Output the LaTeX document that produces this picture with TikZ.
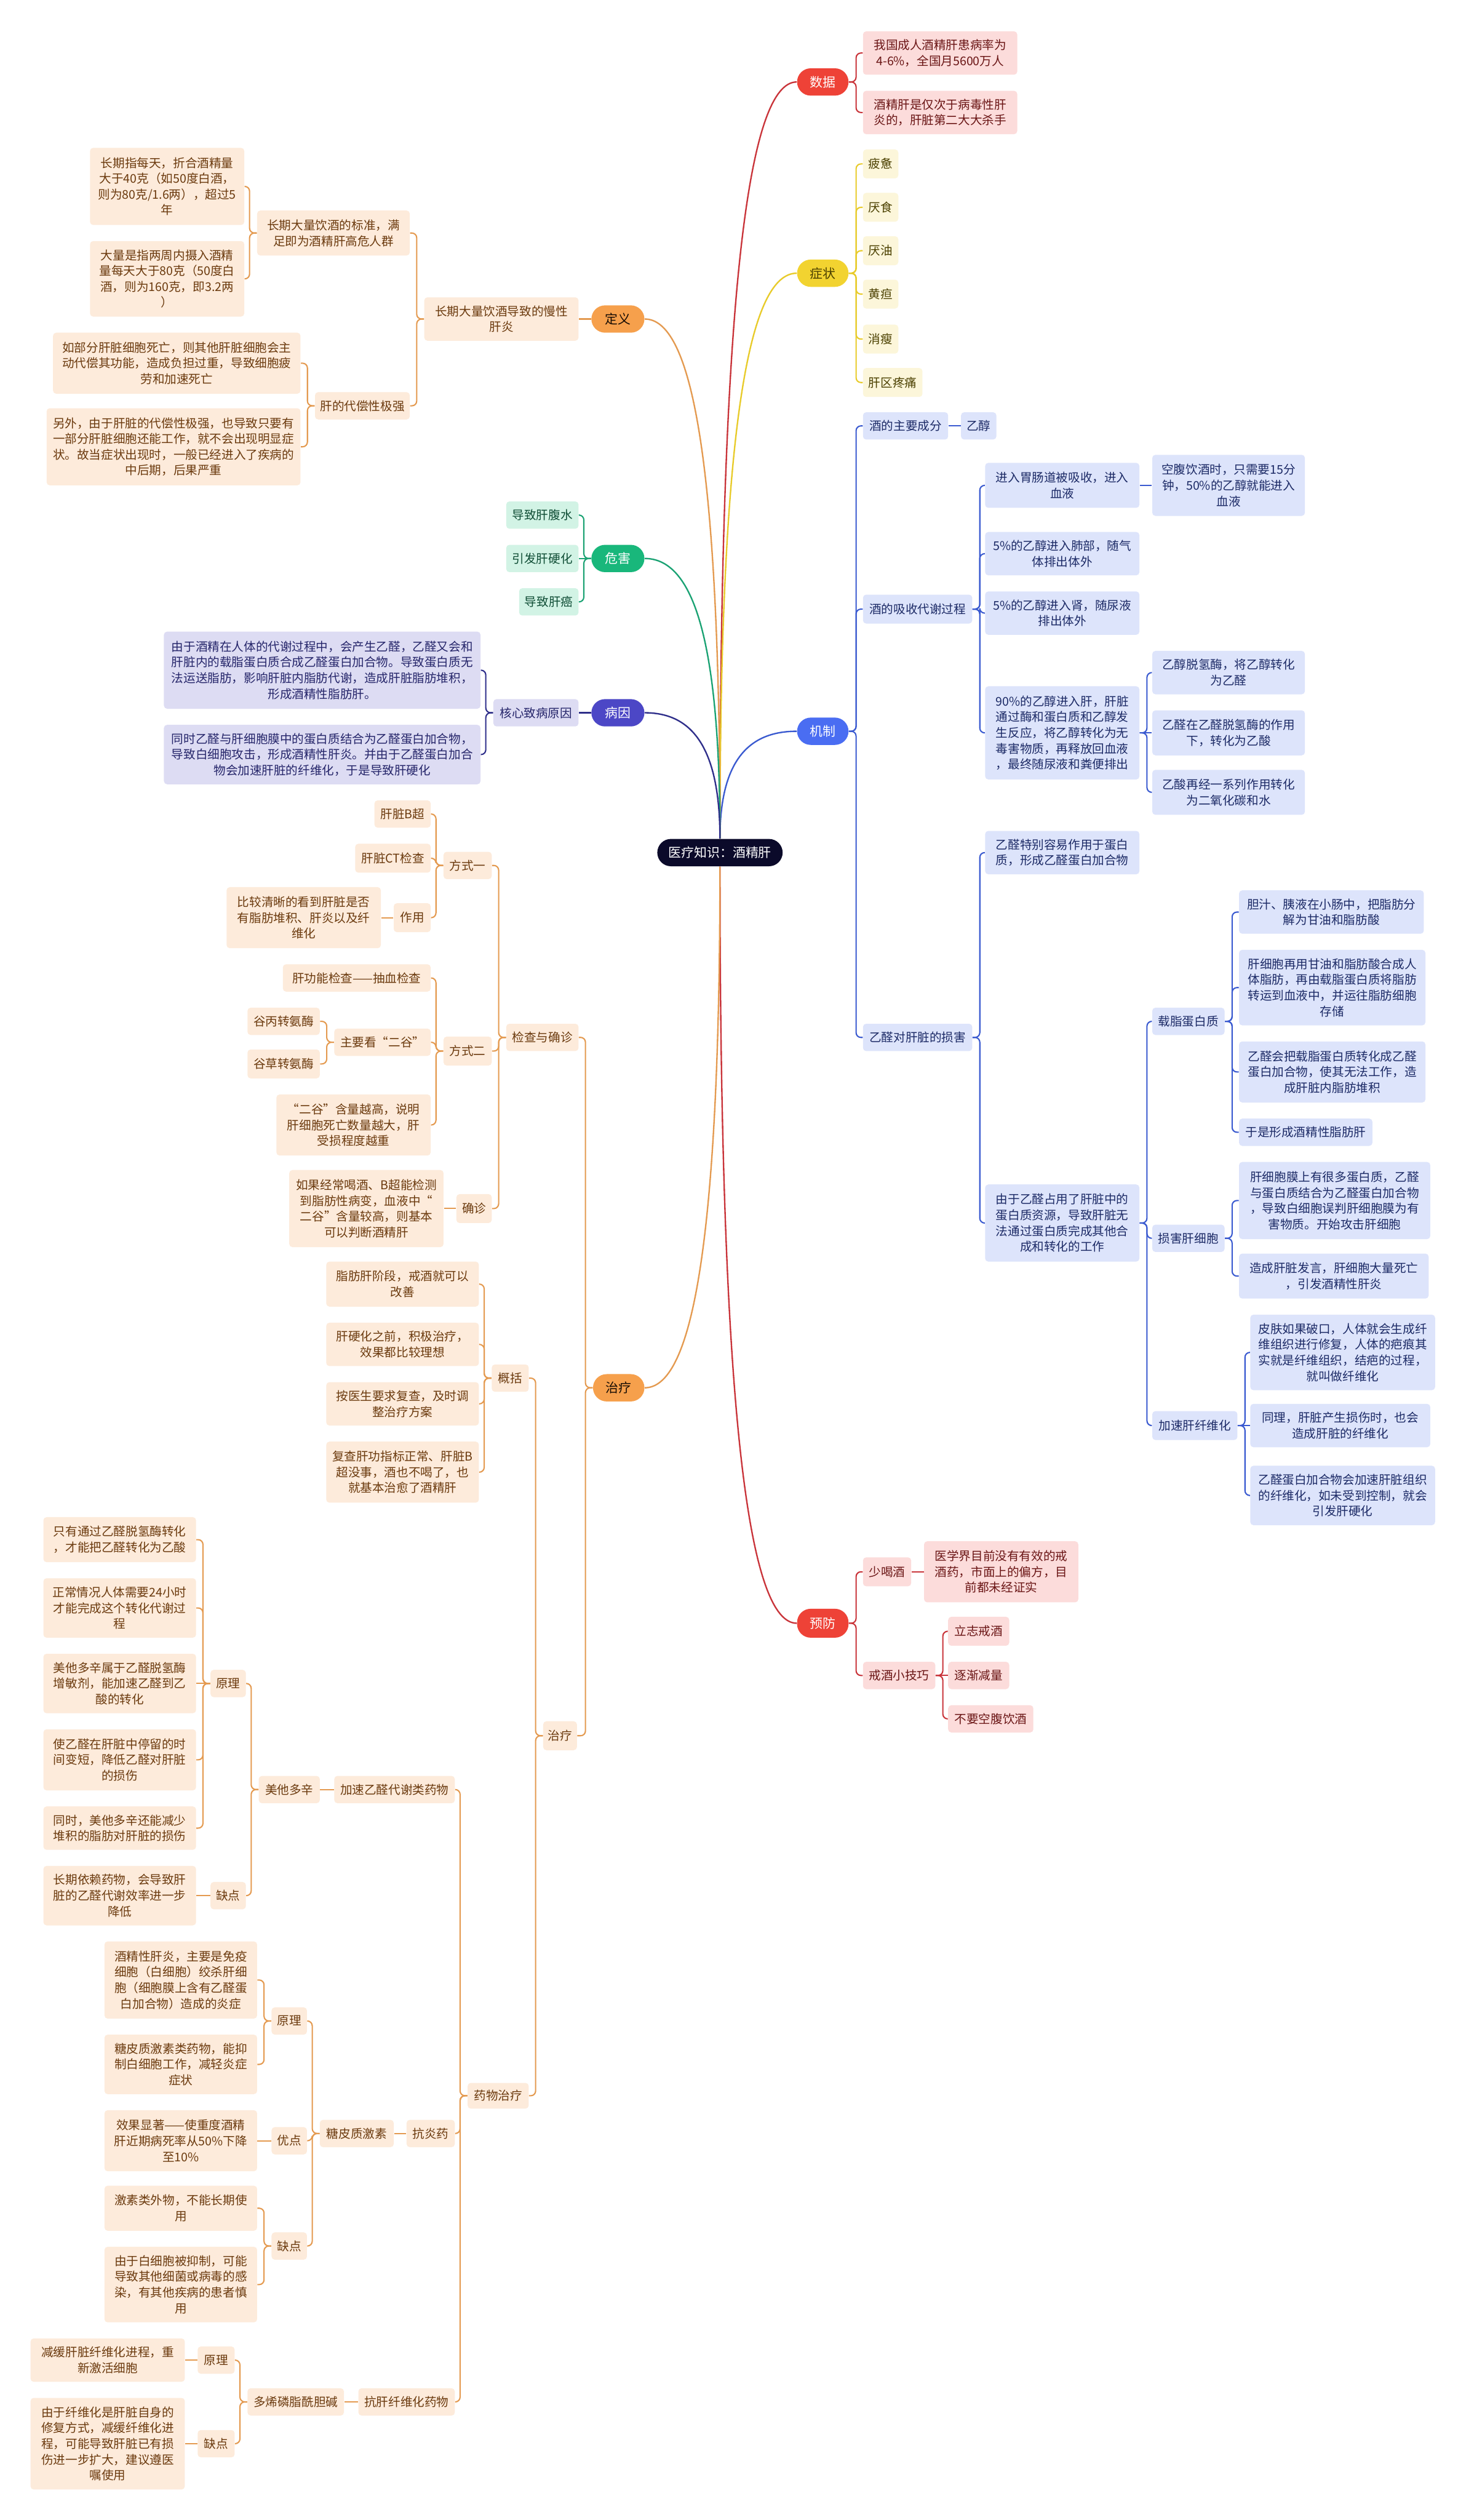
\documentclass[tikz,border=0pt]{standalone}
\usepackage{fontspec}
\setmainfont{Noto Sans CJK SC}
\usetikzlibrary{calc}
\definecolor{rootC}{HTML}{0B0A2A}
\definecolor{redP}{HTML}{EE4237}\definecolor{redL}{HTML}{C9343A}\definecolor{redS}{HTML}{FCDCDB}\definecolor{redT}{HTML}{6A1515}
\definecolor{yelP}{HTML}{F2D330}\definecolor{yelL}{HTML}{E8CB2A}\definecolor{yelS}{HTML}{FCF6DA}\definecolor{yelT}{HTML}{4B4000}
\definecolor{bluP}{HTML}{4A6DF2}\definecolor{bluL}{HTML}{3A5AD0}\definecolor{bluS}{HTML}{DDE4FB}\definecolor{bluT}{HTML}{1C2A66}
\definecolor{oraP}{HTML}{F6A04C}\definecolor{oraL}{HTML}{E49A50}\definecolor{oraS}{HTML}{FDEBDB}\definecolor{oraT}{HTML}{6B3A0E}
\definecolor{greP}{HTML}{19B77B}\definecolor{greL}{HTML}{1AA273}\definecolor{greS}{HTML}{D2F3E5}\definecolor{greT}{HTML}{0F4D35}
\definecolor{indP}{HTML}{4C47C6}\definecolor{indL}{HTML}{2E2E8A}\definecolor{indS}{HTML}{DDDCF3}\definecolor{indT}{HTML}{25256A}
\newcommand\mnode[7]{\node[#1, minimum width=#5pt, minimum height=#6pt] (#2) at (#3,#4) {#7};}
\newcommand\conR[3]{\draw[#1] (#2.east) -- ++(4.5,0) |- (#3.west);}
\newcommand\conL[3]{\draw[#1] (#2.west) -- ++(-4.5,0) |- (#3.east);}
\newcommand\conS[3]{\draw[#1] (#2) -- (#3);}
\newcommand\rootc[3]{\coordinate (kk) at (#2 |- #3); \draw[#1] (#2) .. controls ($(#2)!0.75!(kk)$) and ($(#3)!0.6!(kk)$) .. (#3);}
\begin{document}
\begin{tikzpicture}[x=1pt,y=-1pt,
  every node/.style={font=\fontsize{7.5}{9.8}\selectfont, align=center, inner sep=1pt},
  pill/.style={rounded corners=8.5pt, font=\fontsize{8}{9.8}\selectfont},
  sub/.style={rounded corners=2pt},
  rootn/.style={pill, fill=rootC, text=white},
  pR/.style={pill, fill=redP, text=white}, sR/.style={sub, fill=redS, text=redT},
  pY/.style={pill, fill=yelP, text=yelT}, sY/.style={sub, fill=yelS, text=yelT},
  pB/.style={pill, fill=bluP, text=white}, sB/.style={sub, fill=bluS, text=bluT},
  pO/.style={pill, fill=oraP, text=black!80!oraT}, sO/.style={sub, fill=oraS, text=oraT},
  pG/.style={pill, fill=greP, text=white}, sG/.style={sub, fill=greS, text=greT},
  pI/.style={pill, fill=indP, text=white}, sI/.style={sub, fill=indS, text=indT},
  lR/.style={draw=redL, line width=0.8pt, rounded corners=3pt},
  lY/.style={draw=yelL, line width=0.8pt, rounded corners=3pt},
  lB/.style={draw=bluL, line width=0.8pt, rounded corners=3pt},
  lO/.style={draw=oraL, line width=0.8pt, rounded corners=3pt},
  lG/.style={draw=greL, line width=0.8pt, rounded corners=3pt},
  lI/.style={draw=indL, line width=0.8pt, rounded corners=3pt},
  rR/.style={draw=redL, line width=0.9pt},
  rY/.style={draw=yelL, line width=0.9pt},
  rB/.style={draw=bluL, line width=0.9pt},
  rO/.style={draw=oraL, line width=0.9pt},
  rG/.style={draw=greL, line width=0.9pt},
  rI/.style={draw=indL, line width=0.9pt}]
\fill[white] (0,0) rectangle (912,1568);
\useasboundingbox (0,0) rectangle (912,1568);
% root
\mnode{rootn}{root}{448}{530.5}{78}{17}{医疗知识：酒精肝}
% ===== right side =====
\mnode{pR}{sj}{512}{51}{32}{17}{数据}
\mnode{sR}{d1}{585}{33}{96}{27}{我国成人酒精肝患病率为\\4-6\%，全国月5600万人}
\mnode{sR}{d2}{585}{70}{96}{27}{酒精肝是仅次于病毒性肝\\炎的，肝脏第二大大杀手}
\mnode{pY}{zz}{512}{170}{32}{17}{症状}
\mnode{sY}{y1}{548}{102}{22}{18}{疲惫}
\mnode{sY}{y2}{548}{129}{22}{18}{厌食}
\mnode{sY}{y3}{548}{156}{22}{18}{厌油}
\mnode{sY}{y4}{548}{183}{22}{18}{黄疸}
\mnode{sY}{y5}{548}{211}{22}{18}{消瘦}
\mnode{sY}{y6}{555.5}{238}{37}{18}{肝区疼痛}
\mnode{pB}{jz}{512}{455}{32}{17}{机制}
\mnode{sB}{b1}{563.5}{265}{53}{17}{酒的主要成分}
\mnode{sB}{b1a}{609}{265}{22}{17}{乙醇}
\mnode{sB}{b2}{571}{379}{68}{18}{酒的吸收代谢过程}
\mnode{sB}{b21}{661}{302}{96}{28}{进入胃肠道被吸收，进入\\血液}
\mnode{sB}{b211}{764.5}{302}{95}{38}{空腹饮酒时，只需要15分\\钟，50\%的乙醇就能进入\\血液}
\mnode{sB}{b22}{661}{344.5}{96}{27}{5\%的乙醇进入肺部，随气\\体排出体外}
\mnode{sB}{b23}{661}{381.5}{96}{27}{5\%的乙醇进入肾，随尿液\\排出体外}
\mnode{sB}{b24}{661}{456}{96}{58}{90\%的乙醇进入肝，肝脏\\通过酶和蛋白质和乙醇发\\生反应，将乙醇转化为无\\毒害物质，再释放回血液\\，最终随尿液和粪便排出}
\mnode{sB}{b241}{764.5}{418.5}{95}{27}{乙醇脱氢酶，将乙醇转化\\为乙醛}
\mnode{sB}{b242}{764.5}{456}{95}{28}{乙醛在乙醛脱氢酶的作用\\下，转化为乙酸}
\mnode{sB}{b243}{764.5}{493}{95}{28}{乙酸再经一系列作用转化\\为二氧化碳和水}
\mnode{sB}{b3}{571}{645.5}{68}{17}{乙醛对肝脏的损害}
\mnode{sB}{b31}{661}{530.5}{96}{27}{乙醛特别容易作用于蛋白\\质，形成乙醛蛋白加合物}
\mnode{sB}{b32}{661}{761}{96}{48}{由于乙醛占用了肝脏中的\\蛋白质资源，导致肝脏无\\法通过蛋白质完成其他合\\成和转化的工作}
\mnode{sB}{b321}{739.5}{635.5}{45}{17}{载脂蛋白质}
\mnode{sB}{c1}{828.5}{567.5}{115}{27}{胆汁、胰液在小肠中，把脂肪分\\解为甘油和脂肪酸}
\mnode{sB}{c2}{829}{614.5}{116}{47}{肝细胞再用甘油和脂肪酸合成人\\体脂肪，再由载脂蛋白质将脂肪\\转运到血液中，并运往脂肪细胞\\存储}
\mnode{sB}{c3}{829}{667}{116}{38}{乙醛会把载脂蛋白质转化成乙醛\\蛋白加合物，使其无法工作，造\\成肝脏内脂肪堆积}
\mnode{sB}{c4}{812.5}{704.5}{83}{17}{于是形成酒精性脂肪肝}
\mnode{sB}{b322}{739.5}{770.5}{45}{17}{损害肝细胞}
\mnode{sB}{c5}{830.5}{747}{119}{48}{肝细胞膜上有很多蛋白质，乙醛\\与蛋白质结合为乙醛蛋白加合物\\，导致白细胞误判肝细胞膜为有\\害物质。开始攻击肝细胞}
\mnode{sB}{c6}{830}{794}{118}{28}{造成肝脏发言，肝细胞大量死亡\\，引发酒精性肝炎}
\mnode{sB}{b323}{743.5}{887}{53}{18}{加速肝纤维化}
\mnode{sB}{c7}{835.5}{841.5}{115}{47}{皮肤如果破口，人体就会生成纤\\维组织进行修复，人体的疤痕其\\实就是纤维组织，结疤的过程，\\就叫做纤维化}
\mnode{sB}{c8}{834}{887}{112}{27}{同理，肝脏产生损伤时，也会\\造成肝脏的纤维化}
\mnode{sB}{c9}{835.5}{930.5}{115}{37}{乙醛蛋白加合物会加速肝脏组织\\的纤维化，如未受到控制，就会\\引发肝硬化}
\mnode{pR}{yf}{512}{1010}{32}{18}{预防}
\mnode{sR}{r1}{552}{978}{30}{18}{少喝酒}
\mnode{sR}{r11}{623}{978}{96}{38}{医学界目前没有有效的戒\\酒药，市面上的偏方，目\\前都未经证实}
\mnode{sR}{r2}{559.5}{1042.5}{45}{17}{戒酒小技巧}
\mnode{sR}{r21}{609}{1015}{38}{18}{立志戒酒}
\mnode{sR}{r22}{609}{1042.5}{38}{17}{逐渐减量}
\mnode{sR}{r23}{616.5}{1069.5}{53}{17}{不要空腹饮酒}
% ===== left side =====
\mnode{pO}{dy}{384.5}{198.5}{33}{17}{定义}
\mnode{sO}{L1}{312}{198.5}{96}{27}{长期大量饮酒导致的慢性\\肝炎}
\mnode{sO}{L11}{207.5}{145}{95}{28}{长期大量饮酒的标准，满\\足即为酒精肝高危人群}
\mnode{sO}{L111}{104}{116}{96}{48}{长期指每天，折合酒精量\\大于40克（如50度白酒，\\则为80克/1.6两），超过5\\年}
\mnode{sO}{L112}{104}{173.5}{96}{47}{大量是指两周内摄入酒精\\量每天大于80克（50度白\\酒，则为160克，即3.2两\\）}
\mnode{sO}{L12}{225.5}{252.5}{59}{17}{肝的代偿性极强}
\mnode{sO}{L121}{110}{226}{154}{38}{如部分肝脏细胞死亡，则其他肝脏细胞会主\\动代偿其功能，造成负担过重，导致细胞疲\\劳和加速死亡}
\mnode{sO}{L122}{108}{278}{158}{48}{另外，由于肝脏的代偿性极强，也导致只要有\\一部分肝脏细胞还能工作，就不会出现明显症\\状。故当症状出现时，一般已经进入了疾病的\\中后期，后果严重}
\mnode{pG}{wh}{384.5}{347.5}{33}{17}{危害}
\mnode{sG}{g1}{337.5}{320.5}{45}{17}{导致肝腹水}
\mnode{sG}{g2}{337.5}{347.5}{45}{17}{引发肝硬化}
\mnode{sG}{g3}{341.5}{374.5}{37}{17}{导致肝癌}
\mnode{pI}{by}{384.5}{443.5}{33}{17}{病因}
\mnode{sI}{i1}{333.5}{443.5}{53}{17}{核心致病原因}
\mnode{sI}{i11}{200.5}{417}{197}{48}{由于酒精在人体的代谢过程中，会产生乙醛，乙醛又会和\\肝脏内的载脂蛋白质合成乙醛蛋白加合物。导致蛋白质无\\法运送脂肪，影响肝脏内脂肪代谢，造成肝脏脂肪堆积，\\形成酒精性脂肪肝。}
\mnode{sI}{i12}{200.5}{469.5}{197}{37}{同时乙醛与肝细胞膜中的蛋白质结合为乙醛蛋白加合物，\\导致白细胞攻击，形成酒精性肝炎。并由于乙醛蛋白加合\\物会加速肝脏的纤维化，于是导致肝硬化}
\mnode{pO}{zl}{385}{863.5}{32}{17}{治疗}
\mnode{sO}{k}{337.5}{645.5}{45}{17}{检查与确诊}
\mnode{sO}{k1}{291}{538.5}{30}{17}{方式一}
\mnode{sO}{k11}{250.5}{506.5}{35}{17}{肝脏B超}
\mnode{sO}{k12}{244.5}{534}{47}{18}{肝脏CT检查}
\mnode{sO}{k13}{256.5}{571}{23}{18}{作用}
\mnode{sO}{k131}{189}{571}{96}{38}{比较清晰的看到肝脏是否\\有脂肪堆积、肝炎以及纤\\维化}
\mnode{sO}{k2}{291}{654}{30}{18}{方式二}
\mnode{sO}{k21}{222}{608.5}{92}{17}{肝功能检查——抽血检查}
\mnode{sO}{k22}{238}{648.5}{60}{17}{主要看“二谷”}
\mnode{sO}{k221}{176.5}{635.5}{45}{17}{谷丙转氨酶}
\mnode{sO}{k222}{176.5}{662}{45}{18}{谷草转氨酶}
\mnode{sO}{k23}{220}{700}{96}{38}{“二谷”含量越高，说明\\肝细胞死亡数量越大，肝\\受损程度越重}
\mnode{sO}{k3}{295}{752}{22}{18}{确诊}
\mnode{sO}{k31}{228}{752}{96}{48}{如果经常喝酒、B超能检测\\到脂肪性病变，血液中“\\二谷”含量较高，则基本\\可以判断酒精肝}
\mnode{sO}{zs}{348.5}{1080}{21}{18}{治疗}
\mnode{sO}{gk}{317.5}{857.5}{23}{17}{概括}
\mnode{sO}{gk1}{250.5}{799}{95}{28}{脂肪肝阶段，戒酒就可以\\改善}
\mnode{sO}{gk2}{250.5}{836.5}{95}{27}{肝硬化之前，积极治疗，\\效果都比较理想}
\mnode{sO}{gk3}{250.5}{873.5}{95}{27}{按医生要求复查，及时调\\整治疗方案}
\mnode{sO}{gk4}{250.5}{916}{95}{38}{复查肝功指标正常、肝脏B\\超没事，酒也不喝了，也\\就基本治愈了酒精肝}
\mnode{sO}{yw}{310}{1304}{38}{16}{药物治疗}
\mnode{sO}{m1}{245.5}{1113.5}{75}{17}{加速乙醛代谢类药物}
\mnode{sO}{m11}{180}{1113.5}{38}{17}{美他多辛}
\mnode{sO}{m111}{142}{1047.5}{22}{17}{原理}
\mnode{sO}{m1111}{74.5}{958}{95}{28}{只有通过乙醛脱氢酶转化\\，才能把乙醛转化为乙酸}
\mnode{sO}{m1112}{74.5}{1000.5}{95}{37}{正常情况人体需要24小时\\才能完成这个转化代谢过\\程}
\mnode{sO}{m1113}{74.5}{1047.5}{95}{37}{美他多辛属于乙醛脱氢酶\\增敏剂，能加速乙醛到乙\\酸的转化}
\mnode{sO}{m1114}{74.5}{1095}{95}{38}{使乙醛在肝脏中停留的时\\间变短，降低乙醛对肝脏\\的损伤}
\mnode{sO}{m1115}{74.5}{1137.5}{95}{27}{同时，美他多辛还能减少\\堆积的脂肪对肝脏的损伤}
\mnode{sO}{m112}{142}{1179.5}{22}{17}{缺点}
\mnode{sO}{m1121}{74.5}{1179.5}{95}{37}{长期依赖药物，会导致肝\\脏的乙醛代谢效率进一步\\降低}
\mnode{sO}{m2}{268}{1327.5}{30}{17}{抗炎药}
\mnode{sO}{m21}{222}{1327.5}{46}{17}{糖皮质激素}
\mnode{sO}{m211}{180}{1257.5}{22}{17}{原理}
\mnode{sO}{m2111}{112.5}{1232}{95}{48}{酒精性肝炎，主要是免疫\\细胞（白细胞）绞杀肝细\\胞（细胞膜上含有乙醛蛋\\白加合物）造成的炎症}
\mnode{sO}{m2112}{112.5}{1284.5}{95}{37}{糖皮质激素类药物，能抑\\制白细胞工作，减轻炎症\\症状}
\mnode{sO}{m212}{180}{1332}{22}{17}{优点}
\mnode{sO}{m2121}{112.5}{1332}{95}{38}{效果显著——使重度酒精\\肝近期病死率从50\%下降\\至10\%}
\mnode{sO}{m213}{180}{1397.5}{22}{17}{缺点}
\mnode{sO}{m2131}{112.5}{1374}{95}{28}{激素类外物，不能长期使\\用}
\mnode{sO}{m2132}{112.5}{1421.5}{95}{47}{由于白细胞被抑制，可能\\导致其他细菌或病毒的感\\染，有其他疾病的患者慎\\用}
\mnode{sO}{m3}{253}{1494.5}{60}{17}{抗肝纤维化药物}
\mnode{sO}{m31}{184}{1494.5}{60}{17}{多烯磷脂酰胆碱}
\mnode{sO}{m311}{134.5}{1468.5}{23}{17}{原理}
\mnode{sO}{m3111}{67}{1468.5}{96}{27}{减缓肝脏纤维化进程，重\\新激活细胞}
\mnode{sO}{m312}{134.5}{1520.5}{23}{17}{缺点}
\mnode{sO}{m3121}{67}{1520.5}{96}{57}{由于纤维化是肝脏自身的\\修复方式，减缓纤维化进\\程，可能导致肝脏已有损\\伤进一步扩大，建议遵医\\嘱使用}
% ===== root curves =====
\rootc{rR}{root.north}{sj.west}
\rootc{rY}{root.north}{zz.west}
\rootc{rB}{root.north}{jz.west}
\rootc{rR}{root.south}{yf.west}
\rootc{rO}{root.north}{dy.east}
\rootc{rG}{root.north}{wh.east}
\rootc{rI}{root.north}{by.east}
\rootc{rO}{root.south}{zl.east}
% ===== right connectors =====
\conR{lR}{sj}{d1}\conR{lR}{sj}{d2}
\conR{lY}{zz}{y1}\conR{lY}{zz}{y2}\conR{lY}{zz}{y3}\conR{lY}{zz}{y4}\conR{lY}{zz}{y5}\conR{lY}{zz}{y6}
\conR{lB}{jz}{b1}\conR{lB}{jz}{b2}\conR{lB}{jz}{b3}
\conS{lB}{b1.east}{b1a.west}
\conR{lB}{b2}{b21}\conR{lB}{b2}{b22}\conR{lB}{b2}{b23}\conR{lB}{b2}{b24}
\conS{lB}{b21.east}{b211.west}
\conR{lB}{b24}{b241}\conS{lB}{b24.east}{b242.west}\conR{lB}{b24}{b243}
\conR{lB}{b3}{b31}\conR{lB}{b3}{b32}
\conR{lB}{b32}{b321}\conR{lB}{b32}{b322}\conR{lB}{b32}{b323}
\conR{lB}{b321}{c1}\conR{lB}{b321}{c2}\conR{lB}{b321}{c3}\conR{lB}{b321}{c4}
\conR{lB}{b322}{c5}\conR{lB}{b322}{c6}
\conR{lB}{b323}{c7}\conS{lB}{b323.east}{c8.west}\conR{lB}{b323}{c9}
\conR{lR}{yf}{r1}\conR{lR}{yf}{r2}
\conS{lR}{r1.east}{r11.west}
\conR{lR}{r2}{r21}\conS{lR}{r2.east}{r22.west}\conR{lR}{r2}{r23}
% ===== left connectors =====
\conS{lO}{dy.west}{L1.east}
\conL{lO}{L1}{L11}\conL{lO}{L1}{L12}
\conL{lO}{L11}{L111}\conL{lO}{L11}{L112}
\conL{lO}{L12}{L121}\conL{lO}{L12}{L122}
\conL{lG}{wh}{g1}\conS{lG}{wh.west}{g2.east}\conL{lG}{wh}{g3}
\conS{lI}{by.west}{i1.east}
\conL{lI}{i1}{i11}\conL{lI}{i1}{i12}
\conL{lO}{zl}{k}\conL{lO}{zl}{zs}
\conL{lO}{k}{k1}\conL{lO}{k}{k2}\conL{lO}{k}{k3}
\conL{lO}{k1}{k11}\conL{lO}{k1}{k12}\conL{lO}{k1}{k13}
\conS{lO}{k13.west}{k131.east}
\conL{lO}{k2}{k21}\conL{lO}{k2}{k22}\conL{lO}{k2}{k23}
\conL{lO}{k22}{k221}\conL{lO}{k22}{k222}
\conS{lO}{k3.west}{k31.east}
\conL{lO}{zs}{gk}\conL{lO}{zs}{yw}
\conL{lO}{gk}{gk1}\conL{lO}{gk}{gk2}\conL{lO}{gk}{gk3}\conL{lO}{gk}{gk4}
\conL{lO}{yw}{m1}\conL{lO}{yw}{m2}\conL{lO}{yw}{m3}
\conS{lO}{m1.west}{m11.east}
\conL{lO}{m11}{m111}\conL{lO}{m11}{m112}
\conL{lO}{m111}{m1111}\conL{lO}{m111}{m1112}\conS{lO}{m111.west}{m1113.east}\conL{lO}{m111}{m1114}\conL{lO}{m111}{m1115}
\conS{lO}{m112.west}{m1121.east}
\conS{lO}{m2.west}{m21.east}
\conL{lO}{m21}{m211}\conL{lO}{m21}{m212}\conL{lO}{m21}{m213}
\conL{lO}{m211}{m2111}\conL{lO}{m211}{m2112}
\conS{lO}{m212.west}{m2121.east}
\conL{lO}{m213}{m2131}\conL{lO}{m213}{m2132}
\conS{lO}{m3.west}{m31.east}
\conL{lO}{m31}{m311}\conL{lO}{m31}{m312}
\conS{lO}{m311.west}{m3111.east}
\conS{lO}{m312.west}{m3121.east}
\end{tikzpicture}
\end{document}
